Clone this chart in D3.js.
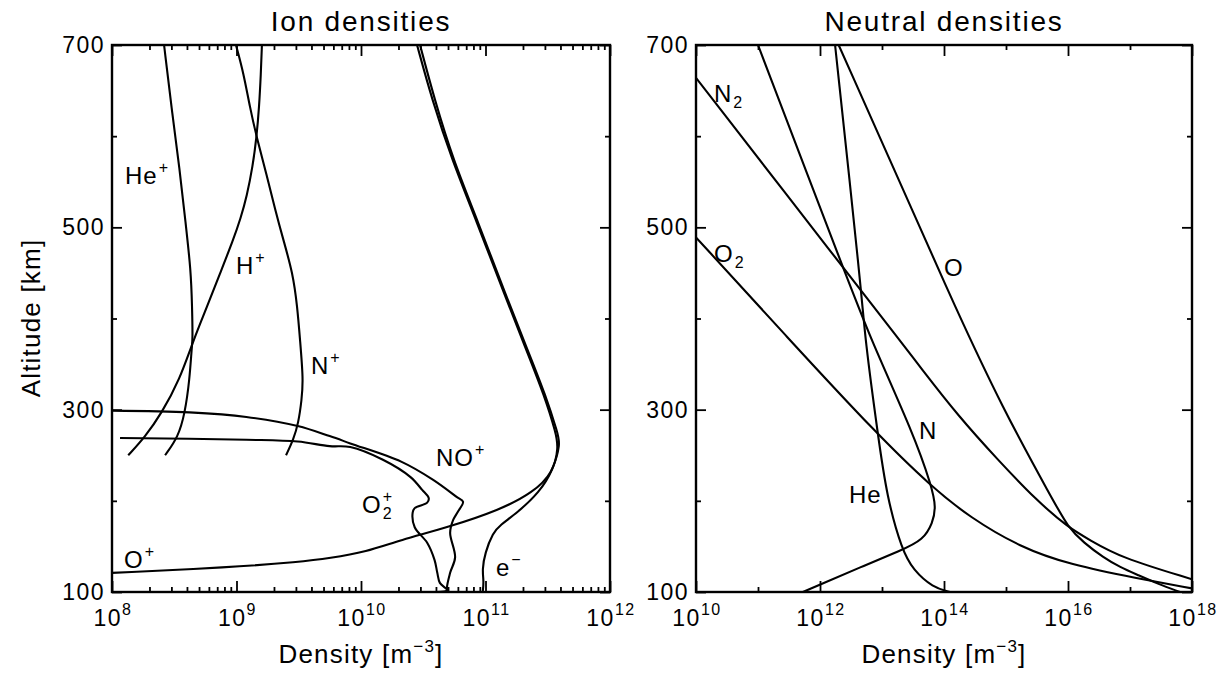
<!DOCTYPE html>
<html>
<head>
<meta charset="utf-8">
<script src="https://cdn.jsdelivr.net/npm/d3@7"></script>
<style>
  body { margin: 0; background: #fff; }
  text { font-family: "Liberation Sans", Arial, sans-serif; fill: #000; }
</style>
</head>
<body>
<svg id="chart" width="1229" height="675"></svg>
<script>
// ---- data: [altitude km, density m^-3] ----
var hePlus = [[700,2.62e8],[632,3.0e8],[563,3.5e8],[505,3.9e8],[453,4.3e8],[413,4.4e8],[376,4.45e8],[369,4.37e8],[333,4.2e8],[296,3.85e8],[270,3.4e8],[250,2.67e8]];
var hPlus = [[700,1.6e9],[669,1.57e9],[632,1.52e9],[599,1.45e9],[567,1.35e9],[534,1.21e9],[510,1.08e9],[486,9.4e8],[450,7.4e8],[413,5.8e8],[376,4.5e8],[333,3.5e8],[296,2.5e8],[270,1.84e8],[250,1.35e8]];
var nPlus = [[700,9.9e8],[669,1.14e9],[632,1.28e9],[599,1.45e9],[557,1.75e9],[520,2.04e9],[486,2.38e9],[450,2.83e9],[413,3.08e9],[376,3.24e9],[333,3.44e9],[311,3.34e9],[285,3.14e9],[267,2.86e9],[250,2.5e9]];
var oPlus = [[700,2.82e10],[640,3.72e10],[574,5.38e10],[508,8.4e10],[424,1.44e11],[369,2.08e11],[314,3.0e11],[274,3.68e11],[259,3.86e11],[231,3.5e11],[209,2.4e11],[190,1.3e11],[171,5.0e10],[157,2.06e10],[144,1.1e10],[137,5.6e9],[133,3.2e9],[127,8.9e8],[121,1e8]];
var electrons = [[700,2.98e10],[640,3.9e10],[574,5.5e10],[508,8.6e10],[424,1.47e11],[369,2.13e11],[314,3.08e11],[274,3.8e11],[263,4.0e11],[234,3.5e11],[209,2.7e11],[187,1.8e11],[173,1.3e11],[165,1.15e11],[143,9.9e10],[124,9.4e10],[112,9.7e10],[100,9.5e10]];
var noPlus = [[299,1e8],[297,4.2e8],[292,1.2e9],[282,3.1e9],[271,5.6e9],[263,8.2e9],[243,2.1e10],[223,3.8e10],[204,5.9e10],[199,6.6e10],[188,6.0e10],[179,5.5e10],[165,5.2e10],[138,5.7e10],[121,5.2e10],[104,4.9e10],[100,5.0e10]];
var o2Plus = [[269,1.16e8],[267,1.2e9],[265,3.1e9],[260,5.6e9],[259,8.2e9],[245,1.5e10],[226,2.5e10],[212,3.1e10],[203,3.5e10],[198,3.4e10],[192,2.7e10],[187,2.6e10],[171,2.7e10],[154,3.4e10],[135,3.9e10],[121,4.1e10],[110,4.3e10],[102,4.9e10],[100,4.0e10]];

var nN2 = [[664,1e10],[456,2.35e12],[379,1.8e13],[347,4.1e13],[292,1.75e14],[245,7.4e14],[201,3.05e15],[171,1.0e16],[157,2.26e16],[138,6.9e16],[114,1e18]];
var nO2 = [[489,1e10],[379,3.0e11],[272,8.6e12],[215,6.4e13],[182,2.6e14],[149,1.7e15],[130,1.08e16],[115,1.3e17],[104,1e18]];
var nO = [[700,2.0e12],[500,4.1e13],[420,1.35e14],[300,9.0e14],[201,5.7e15],[171,1e16],[154,1.8e16],[138,3.7e16],[127,7.0e16],[119,1.3e17],[109,2.8e17],[100,6.4e17]];
var nN = [[700,1e11],[456,2.35e12],[379,6.4e12],[274,3.2e13],[215,6.4e13],[193,7.4e13],[176,6.6e13],[157,4.6e13],[146,2.1e13],[127,4.4e12],[108,1e12],[100,5.3e11]];
var nHe = [[700,1.75e12],[428,4.7e12],[379,5.3e12],[272,8.6e12],[204,1.2e13],[146,2.1e13],[124,3.2e13],[105,6.6e13],[100,1.25e14]];

var ionExponents = [8, 9, 10, 11, 12];
var neutralExponents = [10, 12, 14, 16, 18];
var altMajor = [100, 300, 500, 700];
var altMinor = [200, 400, 600];

// ---- scales ----
var svg = d3.select("#chart");
var altY = d3.scaleLinear().domain([100, 700]).range([592, 45]);
var ionX = d3.scaleLog().domain([1e8, 1e12]).range([112, 610]);
var neuX = d3.scaleLog().domain([1e10, 1e18]).range([696, 1192]);

function pow10(e) { return Math.pow(10, e); }

// 2..9 inside each decade (ion panel)
function minorDecades(lo, hi) {
  var out = [];
  for (var e = lo; e < hi; e++) {
    for (var k = 2; k <= 9; k++) out.push(k * pow10(e));
  }
  return out;
}

function drawPanel(x, majors, minors, title) {
  var g = svg.append("g");
  var x0 = x.range()[0], x1 = x.range()[1];
  var y0 = altY.range()[1], y1 = altY.range()[0];

  function tickAxis(axis, transform) {
    var a = g.append("g").attr("transform", transform).call(axis);
    a.select(".domain").remove();
    a.selectAll("text").remove();
    a.selectAll("line").attr("stroke", "#000").attr("stroke-width", 1.8);
  }
  var maj = majors.map(pow10);
  tickAxis(d3.axisBottom(x).tickValues(maj).tickSize(-11).tickSizeOuter(0), "translate(0," + y1 + ")");
  tickAxis(d3.axisTop(x).tickValues(maj).tickSize(-11).tickSizeOuter(0), "translate(0," + y0 + ")");
  tickAxis(d3.axisBottom(x).tickValues(minors).tickSize(-5).tickSizeOuter(0), "translate(0," + y1 + ")");
  tickAxis(d3.axisTop(x).tickValues(minors).tickSize(-5).tickSizeOuter(0), "translate(0," + y0 + ")");
  tickAxis(d3.axisLeft(altY).tickValues(altMajor).tickSize(-10).tickSizeOuter(0), "translate(" + x0 + ",0)");
  tickAxis(d3.axisRight(altY).tickValues(altMajor).tickSize(-10).tickSizeOuter(0), "translate(" + x1 + ",0)");
  tickAxis(d3.axisLeft(altY).tickValues(altMinor).tickSize(-5).tickSizeOuter(0), "translate(" + x0 + ",0)");
  tickAxis(d3.axisRight(altY).tickValues(altMinor).tickSize(-5).tickSizeOuter(0), "translate(" + x1 + ",0)");

  g.append("rect")
    .attr("x", x0).attr("y", y0)
    .attr("width", x1 - x0).attr("height", y1 - y0)
    .attr("fill", "none").attr("stroke", "#000").attr("stroke-width", 2.4);

  // x tick labels 10^n
  majors.forEach(function(e) {
    var t = g.append("text")
      .attr("x", x(pow10(e)) + 1)
      .attr("y", 626)
      .attr("text-anchor", "middle")
      .style("font-size", "23px")
      .style("letter-spacing", "1.5px");
    t.append("tspan").text("10");
    t.append("tspan").attr("dy", -11).style("font-size", "16px").text(e);
  });

  // y tick labels
  altMajor.forEach(function(a) {
    g.append("text")
      .attr("x", x0 - 7)
      .attr("y", altY(a) + 8)
      .attr("text-anchor", "end")
      .style("font-size", "23px")
      .style("letter-spacing", "1.5px")
      .text(a);
  });

  var xt = g.append("text")
    .attr("x", (x0 + x1) / 2)
    .attr("y", 663)
    .attr("text-anchor", "middle")
    .style("font-size", "26px")
    .style("letter-spacing", "1.2px");
  xt.append("tspan").text("Density [m");
  xt.append("tspan").attr("dy", -11).style("font-size", "17px").text("\u22123");
  xt.append("tspan").attr("dy", 11).text("]");

  g.append("text")
    .attr("x", (x0 + x1) / 2)
    .attr("y", 31)
    .attr("text-anchor", "middle")
    .style("font-size", "28px")
    .style("letter-spacing", "1.8px")
    .text(title);
  return g;
}

function drawCurves(g, x, series, curve) {
  var clipId = "clip" + Math.round(x.range()[0]) + series.length;
  svg.append("clipPath").attr("id", clipId)
    .append("rect")
    .attr("x", x.range()[0]).attr("y", altY.range()[1])
    .attr("width", x.range()[1] - x.range()[0])
    .attr("height", altY.range()[0] - altY.range()[1]);
  var line = d3.line()
    .x(function(d) { return x(d[1]); })
    .y(function(d) { return altY(d[0]); })
    .curve(curve);
  g.append("g").attr("clip-path", "url(#" + clipId + ")")
    .selectAll("path")
    .data(series)
    .enter()
    .append("path")
    .attr("d", line)
    .attr("fill", "none")
    .attr("stroke", "#000")
    .attr("stroke-width", 2.1)
    .attr("stroke-linejoin", "round");
}

// base text with optional raised / lowered script
function label(g, px, py, base, sup, sub) {
  var t = g.append("text").attr("x", px).attr("y", py)
    .style("font-size", "24px").style("letter-spacing", "1px").text(base);
  var w = t.node().getComputedTextLength();
  if (sup) g.append("text").attr("x", px + w + 1).attr("y", py - 11).style("font-size", "16px").text(sup);
  if (sub) g.append("text").attr("x", px + w + 1).attr("y", py + 6).style("font-size", "16px").text(sub);
}

var left = drawPanel(ionX, ionExponents, minorDecades(8, 12), "Ion densities");
var right = drawPanel(neuX, neutralExponents, [11, 13, 15, 17].map(pow10), "Neutral densities");

drawCurves(left, ionX, [hePlus, hPlus, nPlus, oPlus, electrons], d3.curveBasis);
drawCurves(left, ionX, [noPlus, o2Plus], d3.curveCatmullRom.alpha(0.5));
drawCurves(right, neuX, [nN2, nO2, nO, nN, nHe], d3.curveBasis);

svg.append("text")
  .attr("transform", "translate(40,318) rotate(-90)")
  .attr("text-anchor", "middle")
  .style("font-size", "26px")
  .style("letter-spacing", "1.2px")
  .text("Altitude [km]");

label(left, 125, 184, "He", "+");
label(left, 236, 274, "H", "+");
label(left, 311, 374, "N", "+");
label(left, 436, 466, "NO", "+");
label(left, 362, 513, "O", "+", "2");
label(left, 496, 576, "e", "\u2212");
label(left, 124, 568, "O", "+");

label(right, 714, 102, "N", null, "2");
label(right, 714, 262, "O", null, "2");
label(right, 944, 276, "O");
label(right, 919, 439, "N");
label(right, 849, 503, "He");
</script>
</body>
</html>
